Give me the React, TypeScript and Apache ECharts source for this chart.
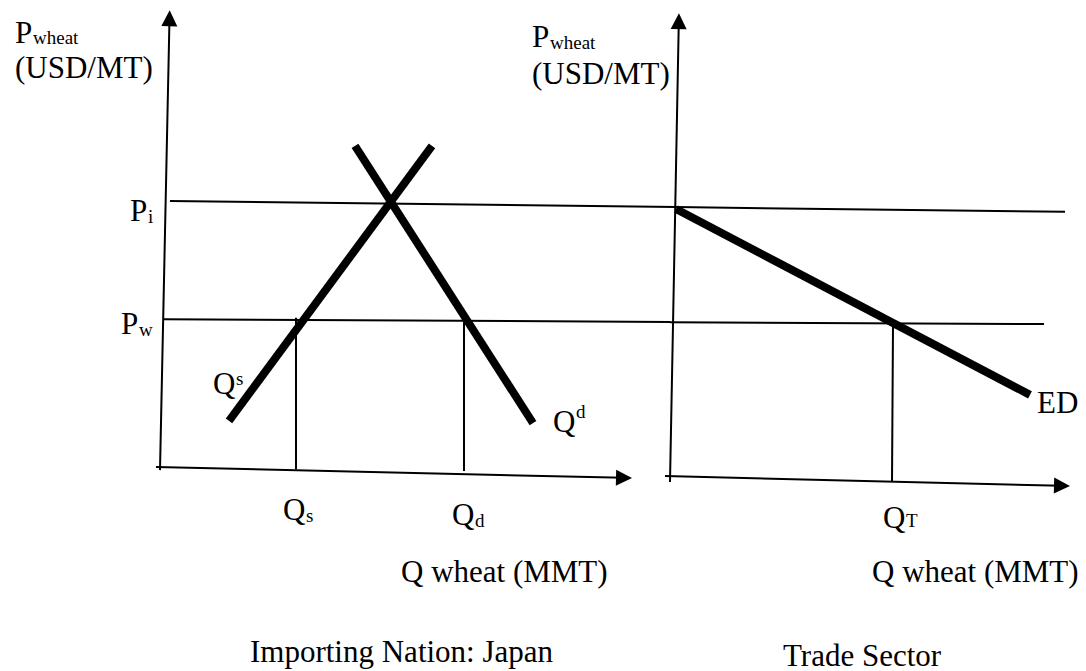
import React, { useEffect, useRef } from "react";
import * as echarts from "echarts";

// ---------- Left panel: Importing Nation: Japan (quantity MMT vs price USD/MT, data units) ----------
const leftYAxisLine = [[0, -0.9], [1.9, 98.2]];
const leftXAxisLine = [[-0.8, -0.2], [92.8, -2.6]];
const leftPiLine = [[2.0, 58.1], [103.2, 56.8]];
const leftPwLine = [[0.6, 32.2], [102, 31.6]];
const supplyCurve = [[13.8, 9.9], [54.4, 70.2]];
const demandCurve = [[39.0, 70.2], [74.6, 9.4]];
const qsDrop = [[27.2, 32.5], [27.2, -0.7]];
const qdDrop = [[60.8, 32.0], [60.8, -1.1]];

// ---------- Right panel: Trade Sector ----------
const rightYAxisLine = [[0, -1.3], [2.2, 97.6]];
const rightXAxisLine = [[-1.25, 0], [98, -2.1]];
const rightPiLine = [[1.5, 57.7], [98.75, 56.7]];
const rightPwLine = [[0, 33.0], [93.5, 32.6]];
const excessDemand = [[1.5, 57.3], [90, 17.4]];
const qtDrop = [[55.75, 32.4], [55.5, -1.1]];

const FONT = '"Liberation Serif", "Times New Roman", serif';

function seg(coords: number[][], grid: number, width: number, arrow = false) {
  return {
    type: "lines",
    coordinateSystem: "cartesian2d",
    xAxisIndex: grid,
    yAxisIndex: grid,
    clip: false,
    silent: true,
    polyline: false,
    symbol: arrow ? ["none", "triangle"] : ["none", "none"],
    symbolSize: arrow ? [0, 16] : 0,
    lineStyle: { color: "#000", width, opacity: 1, cap: "butt" },
    itemStyle: { color: "#000" },
    data: [{ coords }],
  };
}

function txt(text: string, x: number, y: number, size: number) {
  return {
    type: "text",
    x,
    y,
    silent: true,
    style: {
      text,
      font: `${size}px ${FONT}`,
      fill: "#000",
      align: "left",
      verticalAlign: "middle",
      textAlign: "left",
      textVerticalAlign: "middle",
    },
  };
}

export default function App() {
  const ref = useRef<HTMLDivElement>(null);
  useEffect(() => {
    if (!ref.current) return;
    const chart = echarts.init(ref.current, undefined, { renderer: "svg" });
    const BIG = 31;
    const SUB = 19;
    chart.setOption({
      animation: false,
      backgroundColor: "#fff",
      grid: [
        { left: 160, top: 10, width: 500, height: 456 },
        { left: 670, top: 10, width: 400, height: 466 },
      ],
      xAxis: [
        { type: "value", gridIndex: 0, min: 0, max: 100, show: false },
        { type: "value", gridIndex: 1, min: 0, max: 100, show: false },
      ],
      yAxis: [
        { type: "value", gridIndex: 0, min: 0, max: 100, show: false },
        { type: "value", gridIndex: 1, min: 0, max: 100, show: false },
      ],
      series: [
        seg(leftYAxisLine, 0, 2, true),
        seg(leftXAxisLine, 0, 2, true),
        seg(leftPiLine, 0, 2),
        seg(leftPwLine, 0, 2),
        seg(qsDrop, 0, 2),
        seg(qdDrop, 0, 2),
        seg(supplyCurve, 0, 8),
        seg(demandCurve, 0, 8),
        seg(rightYAxisLine, 1, 2, true),
        seg(rightXAxisLine, 1, 2, true),
        seg(rightPiLine, 1, 2),
        seg(rightPwLine, 1, 2),
        seg(qtDrop, 1, 2),
        seg(excessDemand, 1, 8),
      ],
      graphic: [
        // left axis title
        txt("P", 15, 32, BIG),
        txt("wheat", 33, 37, SUB),
        txt("(USD/MT)", 15, 67.5, BIG),
        // right axis title
        txt("P", 532, 36, BIG),
        txt("wheat", 550, 42, SUB),
        txt("(USD/MT)", 532, 73, BIG),
        // price labels
        txt("P", 130, 210, BIG),
        txt("i", 148, 216, SUB),
        txt("P", 121, 323, BIG),
        txt("w", 139, 329, SUB),
        // curve labels
        txt("Q", 213, 383, BIG),
        txt("s", 236, 378.5, SUB),
        txt("Q", 553, 421, BIG),
        txt("d", 576, 411.5, SUB),
        txt("ED", 1037, 402, BIG),
        // quantity labels
        txt("Q", 283, 509, BIG),
        txt("s", 306, 515.5, SUB),
        txt("Q", 452, 514, BIG),
        txt("d", 475, 520, SUB),
        txt("Q", 883, 517, BIG),
        txt("T", 906, 520.5, SUB),
        // axis names
        txt("Q wheat (MMT)", 401, 571, BIG),
        txt("Q wheat (MMT)", 872, 571, BIG),
        // panel titles
        txt("Importing Nation: Japan", 250, 651.5, BIG),
        txt("Trade Sector", 783, 655, BIG),
      ],
    });
    return () => chart.dispose();
  }, []);
  return (
    <div
      ref={ref}
      style={{ position: "fixed", left: 0, top: 0, width: 1086, height: 671, background: "#fff" }}
    />
  );
}
